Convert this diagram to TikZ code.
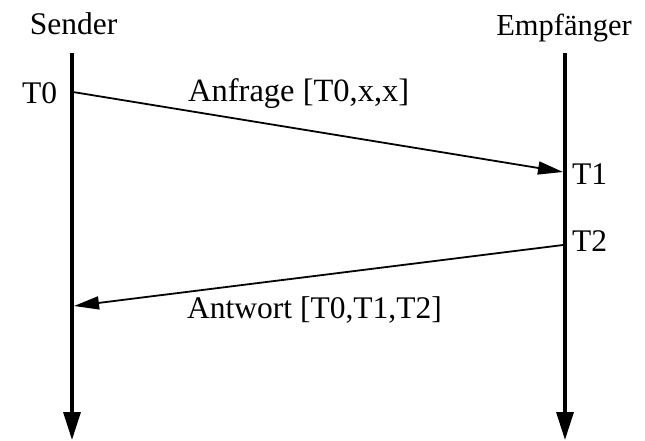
\documentclass[tikz,border=0pt]{standalone}
\usepackage{fontspec}
\setmainfont{Liberation Serif}
\usetikzlibrary{arrows.meta}
\begin{document}
\begin{tikzpicture}[x=1pt,y=-1pt,
  lbl/.style={font=\fontsize{31.5}{32}\selectfont, inner sep=0pt, anchor=base west},
  ttl/.style={font=\fontsize{31.5}{32}\selectfont, inner sep=0pt, anchor=base},
  lifeline/.style={line width=3.3pt, -{Triangle[length=28pt,width=17pt]}},
  msg/.style={line width=1.8pt, -{Triangle[length=25pt,width=13pt]}}]
\useasboundingbox (0,0) rectangle (645,440);
\node[ttl] (sender) at (73.5,34) {Sender};
\node[ttl, font=\fontsize{30.5}{31}\selectfont] (empf) at (564,35) {Empfänger};
\coordinate (stop) at (72,53);
\coordinate (sbot) at (72,440);
\coordinate (etop) at (565,53);
\coordinate (ebot) at (565,440);
\draw[lifeline] (stop) -- (sbot);
\draw[lifeline] (etop) -- (ebot);
\coordinate (t0) at (73,92);
\coordinate (t1) at (563,172);
\coordinate (t2) at (563,245);
\coordinate (t3) at (74,306);
\draw[msg] (t0) -- (t1);
\draw[msg] (t2) -- (t3);
\node[lbl] (l0) at (22,103) {T0};
\node[lbl] (l1) at (572,184) {T1};
\node[lbl] (l2) at (572,251) {T2};
\node[lbl, font=\fontsize{32.5}{33}\selectfont] (anf) at (188,101) {Anfrage [T0,x,x]};
\node[lbl] (antw) at (187,318) {Antwort [T0,T1,T2]};
\end{tikzpicture}
\end{document}
